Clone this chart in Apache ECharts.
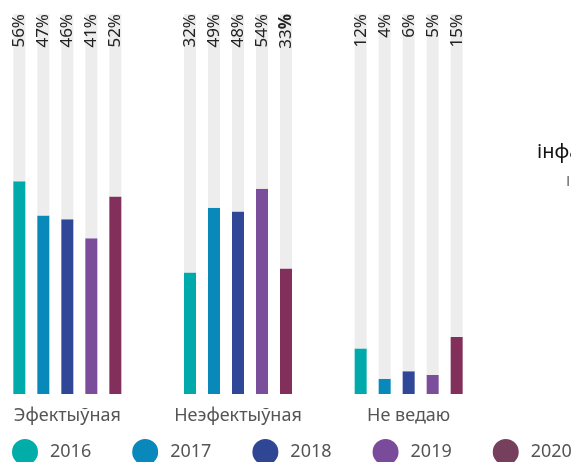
<!DOCTYPE html>
<html>
<head>
<meta charset="utf-8">
<script src="https://cdn.jsdelivr.net/npm/echarts@6/dist/echarts.min.js"></script>
<style>html,body{margin:0;padding:0;background:#fff;}#c{width:571px;height:462px;}</style>
</head>
<body>
<div id="c"></div>
<script>
const categories = ['Эфектыўная', 'Неэфектыўная', 'Не ведаю'];
const years = ['2016', '2017', '2018', '2019', '2020'];
const v2016 = [56, 32, 12];
const v2017 = [47, 49, 4];
const v2018 = [46, 48, 6];
const v2019 = [41, 54, 5];
const v2020 = [52, 33, 15];
const values = [v2016, v2017, v2018, v2019, v2020];
const barColors = ['#00AAAA', '#0889BA', '#2F4796', '#7A4E9B', '#82305B'];
const legendColors = ['#00ADA8', '#0888BB', '#2F4695', '#7A4B9B', '#773F5E'];
const FONT = 'Noto Sans';

const series = [];
years.forEach((y, i) => {
  series.push({
    name: y, type: 'bar', stack: 's' + i, barWidth: 12, barGap: '100%',
    itemStyle: { color: barColors[i] },
    data: values[i]
  });
  series.push({
    name: 'bg' + y, type: 'bar', stack: 's' + i, barWidth: 12, barGap: '100%',
    itemStyle: { color: '#EDEDED' },
    data: values[i].map(v => 100 - v),
    label: {
      show: true, position: 'insideTop', rotate: 90, distance: 0,
      align: 'right', verticalAlign: 'middle',
      fontFamily: FONT, fontSize: 17, color: '#222',
      rich: {
        n: { fontFamily: FONT, fontSize: 17, color: '#222' },
        b: { fontFamily: FONT, fontSize: 17, fontWeight: 'bold', color: '#222' }
      },
      formatter: p => (i === 4 && p.dataIndex === 1)
        ? '{n|' + values[i][p.dataIndex] + '}{b|%}'
        : values[i][p.dataIndex] + '%'
    }
  });
});

const chart = echarts.init(document.getElementById('c'));
chart.setOption({
  animation: false,
  grid: { left: -18, width: 512, top: 14, bottom: 68, containLabel: false, outerBoundsMode: 'none' },
  xAxis: {
    type: 'category', data: categories,
    axisLine: { show: false }, axisTick: { show: false },
    axisLabel: { interval: 0, fontFamily: FONT, fontSize: 18, color: '#555', margin: 13 }
  },
  yAxis: { type: 'value', min: 0, max: 100, show: false, splitLine: { show: false } },
  legend: {
    data: years.map((y, i) => ({ name: y, itemStyle: { color: legendColors[i] } })),
    icon: 'circle', left: 7, top: 434, width: 700, itemWidth: 26, itemHeight: 26, itemGap: 41,
    textStyle: { fontFamily: FONT, fontSize: 18, color: '#555', padding: [0, 0, 0, 7] }
  },
  graphic: [
    { type: 'text', left: 537, top: 142, style: { text: 'інфармацыя', font: '20px "Noto Sans"', fill: '#111' } },
    { type: 'text', left: 566, top: 174, style: { text: 'Ін', font: '15px "Noto Sans"', fill: '#666' } }
  ],
  series: series
});
</script>
</body>
</html>
